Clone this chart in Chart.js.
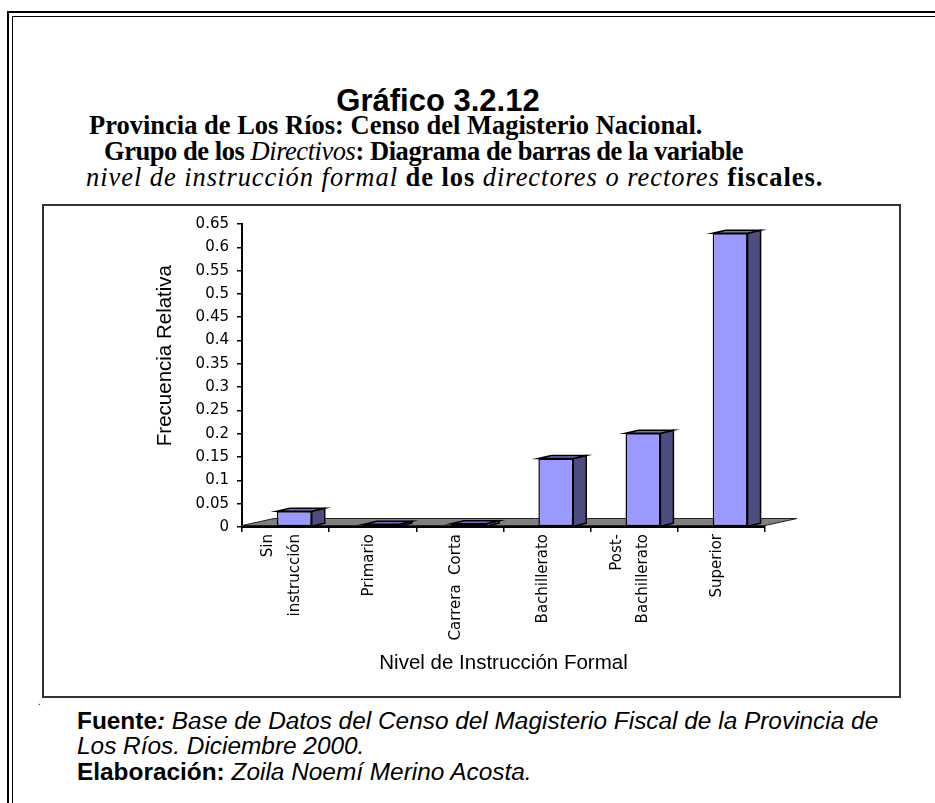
<!DOCTYPE html>
<html>
<head>
<meta charset="utf-8">
<script src="https://cdn.jsdelivr.net/npm/chart.js@4.4.1/dist/chart.umd.min.js"></script>
<style>
  html, body { margin: 0; padding: 0; background: #fff; }
  body { width: 935px; height: 803px; overflow: hidden; position: relative; }
  .abs { position: absolute; white-space: nowrap; }
  .sans { font-family: 'Liberation Sans', Arial, sans-serif; }
  .serif { font-family: 'Liberation Serif', 'Times New Roman', serif; }
  #frameOuter { left: 7px; top: 11px; width: 2000px; height: 2000px; border-left: 2.5px solid #000; border-top: 2.5px solid #000; }
  #frameInner { left: 12px; top: 16px; width: 2000px; height: 2000px; border-left: 1.5px solid #000; border-top: 1.5px solid #000; }
  #title { left: 0; width: 876px; text-align: center; top: 85px; font-size: 31px; line-height: 31px; font-weight: bold; color: #000; }
  .sub { font-size: 26.5px; line-height: 26.5px; font-weight: bold; color: #000; }
  .sub i { font-weight: normal; }
  #chartBox { left: 42px; top: 204px; width: 855px; height: 490px; border: 2px solid #333; background: #fff; }
  #chartBox canvas { position: absolute; left: 0; top: 0; }
  .foot { font-size: 24.4px; line-height: 24.4px; color: #000; }
  .foot i { font-style: italic; }
</style>
</head>
<body>
<div id="frameOuter" class="abs"></div>
<div id="frameInner" class="abs"></div>

<div id="title" class="abs sans">Gráfico 3.2.12</div>
<div class="abs serif sub" style="left:89px; top:112px;">Provincia de Los Ríos: Censo del Magisterio Nacional.</div>
<div class="abs serif sub" style="left:104px; top:138px; letter-spacing:-0.45px;">Grupo de los <i>Directivos</i>: Diagrama de barras de la variable</div>
<div class="abs serif sub" style="left:86px; top:164px; letter-spacing:0.95px;"><i>nivel de instrucción formal</i> de los <i>directores o rectores</i> fiscales.</div>

<div id="chartBox" class="abs">
  <canvas id="chart" width="855" height="490"></canvas>
</div>

<div class="abs sans" style="left:38px; top:697px; font-size:10px; line-height:10px;">.</div>
<div class="abs sans foot" style="left:77px; top:709px;"><b>Fuente</b><b><i>:</i></b><i> Base de Datos del Censo del Magisterio Fiscal de la Provincia de</i></div>
<div class="abs sans foot" style="left:77px; top:734px;"><i>Los Ríos. Diciembre 2000.</i></div>
<div class="abs sans foot" style="left:77px; top:760px;"><b>Elaboración:</b><i> Zoila Noemí Merino Acosta.</i></div>

<script>
// ---------------- DATA ----------------
const categories = [['Sin', 'instrucción'], 'Primario', 'Carrera  Corta', 'Bachillerato', ['Post-', 'Bachillerato'], 'Superior'];
const frecuenciaRelativa = [0.034, 0.006, 0.007, 0.147, 0.201, 0.630];
const yTickLabels = ['0', '0.05', '0.1', '0.15', '0.2', '0.25', '0.3', '0.35', '0.4', '0.45', '0.5', '0.55', '0.6', '0.65'];
const yAxisTitle = 'Frecuencia Relativa';
const xAxisTitle = 'Nivel de Instrucción Formal';

// ---------------- STYLE ----------------
const FRONT_COLOR = '#9999FF';
const SIDE_COLOR = '#4D4D80';
const TOP_COLOR = '#7373C6';
const FLOOR_COLOR = '#808080';
const BAR_DEPTH_X = 13, BAR_DEPTH_Y = 3;
const FLOOR_DEPTH_X = 32, FLOOR_DEPTH_Y = 7;
const BAR_SHIFT_FRACTION = 0.1;

// Category scale that centres multi-line rotated labels on their tick
class CenteredCategoryScale extends Chart.CategoryScale {
  _computeLabelItems(chartArea) {
    const items = super._computeLabelItems(chartArea);
    for (const it of items) {
      if (Array.isArray(it.label) && it.label.length > 1 && it.options && it.options.translation) {
        const lh = (it.font && it.font.lineHeight) || 26.5;
        it.options.translation[0] -= (it.label.length - 1) * lh / 2;
      }
    }
    return items;
  }
}
CenteredCategoryScale.id = 'centeredCategory';
CenteredCategoryScale.defaults = Chart.CategoryScale.defaults;
Chart.register(CenteredCategoryScale);

const depthPlugin = {
  id: 'depth3d',
  afterDatasetsUpdate(chart) {
    const xs = chart.scales.x;
    const shift = (xs.width / categories.length) * BAR_SHIFT_FRACTION;
    chart.getDatasetMeta(0).data.forEach(el => { el.x += shift; });
  },
  beforeDatasetsDraw(chart) {
    const {ctx, chartArea} = chart;
    const {left, right, bottom} = chartArea;
    const b = bottom - 1.5;
    ctx.save();
    ctx.beginPath();
    ctx.moveTo(left, b);
    ctx.lineTo(right, b);
    ctx.lineTo(right + FLOOR_DEPTH_X, b - FLOOR_DEPTH_Y);
    ctx.lineTo(left + FLOOR_DEPTH_X, b - FLOOR_DEPTH_Y);
    ctx.closePath();
    ctx.fillStyle = FLOOR_COLOR;
    ctx.fill();
    ctx.lineWidth = 1;
    ctx.strokeStyle = '#222';
    ctx.stroke();
    ctx.restore();
  },
  afterDatasetsDraw(chart) {
    const {ctx} = chart;
    ctx.save();
    ctx.lineWidth = 1.5;
    ctx.strokeStyle = '#000';
    ctx.lineJoin = 'miter';
    chart.getDatasetMeta(0).data.forEach(el => {
      const l = el.x - el.width / 2, r = el.x + el.width / 2;
      const top = el.y, base = el.base;
      // side face
      ctx.beginPath();
      ctx.moveTo(r, top);
      ctx.lineTo(r + BAR_DEPTH_X, top - BAR_DEPTH_Y);
      ctx.lineTo(r + BAR_DEPTH_X, base - BAR_DEPTH_Y);
      ctx.lineTo(r, base);
      ctx.closePath();
      ctx.fillStyle = SIDE_COLOR;
      ctx.fill();
      ctx.stroke();
      // top face
      ctx.beginPath();
      ctx.moveTo(l, top);
      ctx.lineTo(l + BAR_DEPTH_X, top - BAR_DEPTH_Y);
      ctx.lineTo(r + BAR_DEPTH_X, top - BAR_DEPTH_Y);
      ctx.lineTo(r, top);
      ctx.closePath();
      ctx.fillStyle = TOP_COLOR;
      ctx.fill();
      ctx.stroke();
    });
    ctx.restore();
  }
};

new Chart(document.getElementById('chart'), {
  type: 'bar',
  data: {
    labels: categories,
    datasets: [{
      data: frecuenciaRelativa,
      backgroundColor: FRONT_COLOR,
      borderColor: '#000',
      borderWidth: 1.5,
      borderSkipped: false,
      categoryPercentage: 1.0,
      barPercentage: 0.4
    }]
  },
  options: {
    responsive: false,
    animation: false,
    devicePixelRatio: 1,
    layout: { padding: { left: 0, right: 134, top: 18, bottom: 0 } },
    plugins: { legend: { display: false }, tooltip: { enabled: false } },
    scales: {
      x: {
        type: 'centeredCategory',
        offset: true,
        afterFit: (s) => { s.height = 169; },
        grid: { offset: true, drawOnChartArea: false, drawTicks: true, tickLength: 5, color: '#000', lineWidth: 1.5 },
        border: { display: true, color: '#000', width: 2 },
        ticks: {
          autoSkip: false, minRotation: 90, maxRotation: 90, padding: 2, labelOffset: -4,
          color: '#000', font: { family: 'DejaVu Sans', size: 15, lineHeight: 1.77 }
        },
        title: {
          display: true, text: xAxisTitle, color: '#000',
          font: { family: 'Liberation Sans', size: 20.5 },
          padding: { top: 0, bottom: 20.2 }
        }
      },
      y: {
        type: 'linear',
        min: 0, max: 0.65,
        afterFit: (s) => { s.width = 198; },
        grid: { drawOnChartArea: false, drawTicks: true, tickLength: 5, color: '#000', lineWidth: 1.5 },
        border: { display: true, color: '#000', width: 2 },
        ticks: {
          stepSize: 0.05, padding: 8, color: '#000',
          font: { family: 'DejaVu Sans', size: 15 },
          callback: (v, i) => (yTickLabels[i] !== undefined ? yTickLabels[i] : String(v))
        },
        title: {
          display: true, text: '       ' + yAxisTitle, color: '#000',
          font: { family: 'Liberation Sans', size: 20.5 },
          padding: { top: 108.7, bottom: 0 }
        }
      }
    }
  },
  plugins: [depthPlugin]
});
</script>
</body>
</html>
